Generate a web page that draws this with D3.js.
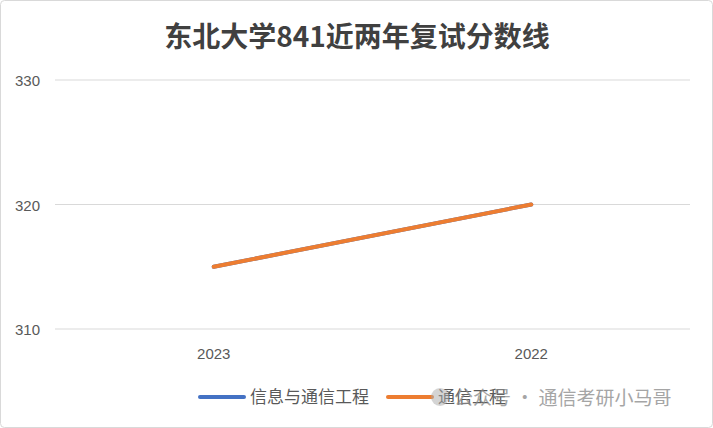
<!DOCTYPE html>
<html><head><meta charset="utf-8">
<script src="https://cdn.jsdelivr.net/npm/d3@7"></script>
<style>body{margin:0;background:#fff}</style></head>
<body><svg id="c" width="713" height="428"></svg>
<script>
const categories = ["2023","2022"];
const seriesNames = ["信息与通信工程","通信工程"];
const seriesA = [315,320];
const seriesB = [315,320];
const yTicks = [310,320,330];
const colors = ["#4472C4","#ED7D31"];

const svg = d3.select("#c");
svg.append("rect").attr("x",0.5).attr("y",0.5).attr("width",712).attr("height",427)
  .attr("fill","#fff").attr("stroke","#d9d9d9").attr("rx",4);
svg.append("text").attr("x",357).attr("y",47).attr("text-anchor","middle")
  .attr("font-family","Noto Sans CJK SC").attr("font-size",28).attr("font-weight","bold")
  .attr("fill","#404040").text("东北大学841近两年复试分数线");

const x = d3.scaleBand().domain(categories).range([55,690]);
const y = d3.scaleLinear().domain([310,330]).range([329,80]);

svg.append("g").selectAll("line").data(yTicks).join("line")
  .attr("x1",55).attr("x2",690).attr("y1",d=>y(d)).attr("y2",d=>y(d))
  .attr("stroke","#d9d9d9").attr("stroke-width",1);
svg.append("g").selectAll("text").data(yTicks).join("text")
  .attr("x",15).attr("y",d=>y(d)+6).attr("font-family","Liberation Sans, Arial")
  .attr("font-size",15).attr("fill","#595959").text(d=>d);
svg.append("g").selectAll("text").data(categories).join("text")
  .attr("x",d=>x(d)+x.bandwidth()/2).attr("y",359).attr("text-anchor","middle")
  .attr("font-family","Liberation Sans, Arial").attr("font-size",15).attr("fill","#595959").text(d=>d);

const line = d3.line().x((d,i)=>x(categories[i])+x.bandwidth()/2).y(d=>y(d));
[seriesA,seriesB].forEach((s,i)=>{
  svg.append("path").attr("d",line(s)).attr("fill","none").attr("stroke",colors[i])
    .attr("stroke-width",4).attr("stroke-linecap","round");
});

const legX=[200,388];
seriesNames.forEach((n,i)=>{
  svg.append("line").attr("x1",legX[i]).attr("x2",legX[i]+44).attr("y1",397).attr("y2",397)
    .attr("stroke",colors[i]).attr("stroke-width",4).attr("stroke-linecap","round");
  svg.append("text").attr("x",legX[i]+50).attr("y",403).attr("font-family","Noto Sans CJK SC")
    .attr("font-size",17).attr("fill","#595959").text(n);
});
// watermark
svg.append("circle").attr("cx",440).attr("cy",397).attr("r",9).attr("fill","#aaa").attr("opacity",0.5);
svg.append("text").attr("x",454).attr("y",405).attr("font-family","Noto Sans CJK SC")
  .attr("font-size",19).attr("fill","#888").attr("opacity",0.75).text("公众号 · 通信考研小马哥");
</script></body></html>
